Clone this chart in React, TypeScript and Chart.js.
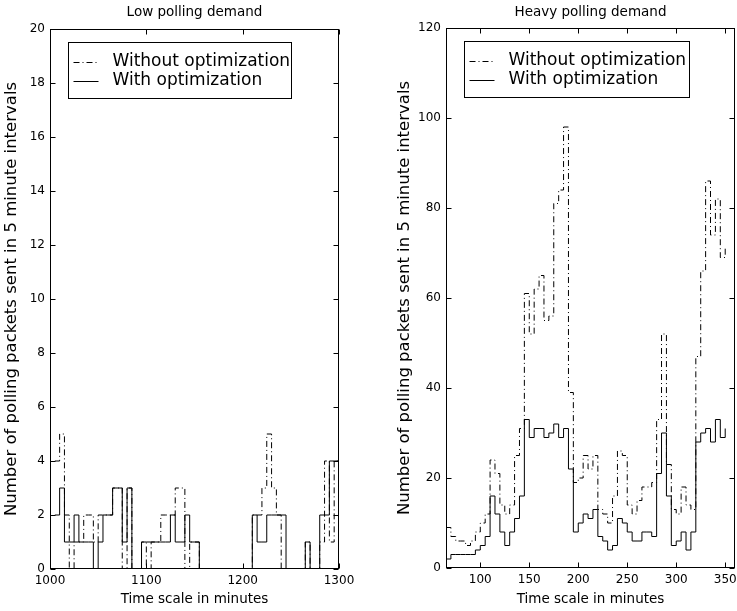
import React, { useEffect, useRef } from 'react';
import { Chart, registerables } from 'chart.js';

Chart.register(...registerables);

const FONT = "'DejaVu Sans', 'Liberation Sans', sans-serif";

// ---------- data ----------
const panelTitles = ['Low polling demand', 'Heavy polling demand'];
const xAxisTitle = 'Time scale in minutes';
const yAxisTitle = 'Number of polling packets sent in 5 minute intervals';
const legendLabels = ['Without optimization', 'With optimization'];

const lowTimes = [
  1005, 1010, 1015, 1020, 1025, 1030, 1035, 1040, 1045, 1050,
  1055, 1060, 1065, 1070, 1075, 1080, 1085, 1090, 1095, 1100,
  1105, 1110, 1115, 1120, 1125, 1130, 1135, 1140, 1145, 1150,
  1155, 1160, 1165, 1170, 1175, 1180, 1185, 1190, 1195, 1200,
  1205, 1210, 1215, 1220, 1225, 1230, 1235, 1240, 1245, 1250,
  1255, 1260, 1265, 1270, 1275, 1280, 1285, 1290, 1295, 1300,
];
const lowWithout = [
  4, 5, 2, 0, 1, 1, 2, 2, 1, 2,
  2, 2, 3, 3, 0, 3, 0, 0, 1, 0,
  1, 1, 2, 2, 2, 3, 3, 0, 1, 1,
  0, 0, 0, 0, 0, 0, 0, 0, 0, 0,
  0, 2, 2, 3, 5, 3, 2, 0, 0, 0,
  0, 0, 1, 0, 0, 1, 4, 1, 4, 4,
];
const lowWith = [
  2, 3, 1, 1, 2, 1, 1, 1, 0, 1,
  2, 2, 3, 3, 1, 3, 0, 0, 1, 1,
  1, 1, 1, 1, 2, 1, 1, 2, 1, 1,
  0, 0, 0, 0, 0, 0, 0, 0, 0, 0,
  0, 2, 1, 1, 2, 2, 2, 2, 0, 0,
  0, 0, 1, 0, 0, 2, 2, 4, 4, 4,
];
const lowXTicks = [1000, 1100, 1200, 1300];
const lowYTicks = [0, 2, 4, 6, 8, 10, 12, 14, 16, 18, 20];

const heavyTimes = [
  65, 70, 75, 80, 85, 90, 95, 100, 105, 110,
  115, 120, 125, 130, 135, 140, 145, 150, 155, 160,
  165, 170, 175, 180, 185, 190, 195, 200, 205, 210,
  215, 220, 225, 230, 235, 240, 245, 250, 255, 260,
  265, 270, 275, 280, 285, 290, 295, 300, 305, 310,
  315, 320, 325, 330, 335, 340, 345, 350,
];
const heavyWithout = [
  9, 7, 6, 6, 5, 6, 8, 10, 12, 24,
  21, 14, 12, 14, 25, 31, 61, 52, 62, 65,
  55, 56, 81, 84, 98, 39, 19, 20, 25, 22,
  25, 13, 12, 10, 16, 26, 25, 14, 12, 15,
  18, 18, 19, 33, 52, 23, 13, 12, 18, 14,
  13, 47, 66, 86, 74, 82, 69, 71,
];
const heavyWith = [
  2, 3, 3, 3, 3, 3, 4, 5, 7, 16,
  12, 8, 5, 8, 11, 16, 33, 29, 31, 31,
  29, 30, 32, 29, 31, 22, 8, 10, 12, 11,
  13, 7, 6, 4, 5, 11, 10, 8, 6, 6,
  8, 8, 7, 21, 30, 16, 5, 6, 8, 4,
  8, 28, 30, 31, 28, 33, 29, 31,
];
const heavyXTicks = [100, 150, 200, 250, 300, 350];
const heavyYTicks = [0, 20, 40, 60, 80, 100, 120];

const DASH = [6, 3, 1, 3];

// ---------- plugin: box, inward ticks, boxed legend ----------
const framePlugin = {
  id: 'frame',
  afterDatasetsDraw(chart: any, _args: any, opts: any) {
    const { ctx, chartArea: a, scales } = chart;
    ctx.save();
    ctx.strokeStyle = '#000';
    ctx.lineWidth = 1;
    ctx.setLineDash([]);
    const L = Math.round(a.left) + 0.5;
    const R = Math.round(a.right) - 0.5;
    const T = Math.round(a.top) + 0.5;
    const B = Math.round(a.bottom) - 0.5;
    ctx.strokeRect(L, T, R - L, B - T);
    const tl = 5;
    ctx.beginPath();
    for (const t of scales.x.ticks) {
      const px = Math.round(scales.x.getPixelForValue(t.value)) + 0.5;
      ctx.moveTo(px, B); ctx.lineTo(px, B - tl);
      ctx.moveTo(px, T); ctx.lineTo(px, T + tl);
    }
    for (const t of scales.y.ticks) {
      const py = Math.round(scales.y.getPixelForValue(t.value)) + 0.5;
      ctx.moveTo(L, py); ctx.lineTo(L + tl, py);
      ctx.moveTo(R, py); ctx.lineTo(R - tl, py);
    }
    ctx.stroke();

    // legend
    const lx = Math.round(a.left + 18) + 0.5;
    const ly = Math.round(a.top + 13) + 0.5;
    const lw = opts.legendWidth || 223;
    const lh = 56;
    ctx.fillStyle = '#fff';
    ctx.fillRect(lx, ly, lw, lh);
    ctx.strokeRect(lx, ly, lw, lh);
    const rows = [ly + 19, ly + 38];
    const dashes = [DASH, []];
    ctx.font = `17px ${FONT}`;
    ctx.textBaseline = 'middle';
    ctx.textAlign = 'left';
    legendLabels.forEach((lab, i) => {
      const y = Math.round(rows[i]) + 0.5;
      ctx.setLineDash(dashes[i]);
      ctx.beginPath();
      ctx.moveTo(lx + 5, y);
      ctx.lineTo(lx + 30, y);
      ctx.stroke();
      ctx.setLineDash([]);
      ctx.fillStyle = '#000';
      ctx.fillText(lab, lx + 44, rows[i]);
    });
    ctx.restore();
  },
};

type PanelProps = {
  left: number;
  width: number;
  title: string;
  times: number[];
  without: number[];
  withOpt: number[];
  xMin: number;
  xMax: number;
  yMax: number;
  xTicks: number[];
  yTicks: number[];
  padLeft: number;
  padRight: number;
  yScaleWidth: number;
  xScaleHeight: number;
  titleBottom: number;
  legendWidth: number;
};

function Panel(p: PanelProps) {
  const ref = useRef<HTMLCanvasElement | null>(null);
  useEffect(() => {
    if (!ref.current) return;
    const toPts = (vals: number[]) => p.times.map((t, i) => ({ x: t, y: vals[i] }));
    const tickFont = { family: FONT, size: 12 };
    const chart = new Chart(ref.current, {
      type: 'line',
      data: {
        datasets: [
          {
            label: legendLabels[0],
            data: toPts(p.without),
            borderColor: '#000',
            borderWidth: 1,
            borderDash: DASH,
            pointRadius: 0,
            stepped: true,
            fill: false,
          },
          {
            label: legendLabels[1],
            data: toPts(p.withOpt),
            borderColor: '#000',
            borderWidth: 1,
            pointRadius: 0,
            stepped: true,
            fill: false,
          },
        ],
      },
      options: {
        responsive: false,
        animation: false,
        devicePixelRatio: 1,
        layout: { padding: { left: p.padLeft, right: p.padRight, top: 0, bottom: 0 } },
        plugins: {
          legend: { display: false },
          tooltip: { enabled: false },
          title: {
            display: true,
            text: p.title,
            fullSize: false,
            color: '#000',
            font: { family: FONT, size: 13.5, weight: 'normal' },
            padding: { top: 3.9, bottom: p.titleBottom },
          },
          frame: { legendWidth: p.legendWidth },
        } as any,
        scales: {
          x: {
            type: 'linear',
            min: p.xMin,
            max: p.xMax,
            grid: { display: false, drawTicks: false },
            border: { display: false },
            afterBuildTicks: (s: any) => {
              s.ticks = p.xTicks.map((v) => ({ value: v }));
            },
            afterFit: (s: any) => {
              s.height = p.xScaleHeight;
            },
            ticks: {
              color: '#000',
              font: tickFont,
              padding: 5,
              maxRotation: 0,
              autoSkip: false,
              callback: (v: any) => String(v),
            },
            title: {
              display: true,
              text: xAxisTitle,
              color: '#000',
              font: { family: FONT, size: 13.5 },
              padding: { top: 0, bottom: 3.9 },
            },
          },
          y: {
            type: 'linear',
            min: 0,
            max: p.yMax,
            grid: { display: false, drawTicks: false },
            border: { display: false },
            afterBuildTicks: (s: any) => {
              s.ticks = p.yTicks.map((v) => ({ value: v }));
            },
            afterFit: (s: any) => {
              s.width = p.yScaleWidth;
            },
            ticks: {
              color: '#000',
              font: tickFont,
              padding: 5,
              autoSkip: false,
              callback: (v: any) => String(v),
            },
            title: {
              display: true,
              text: yAxisTitle,
              color: '#000',
              font: { family: FONT, size: 16.5 },
              padding: { top: 2.2, bottom: 0 },
            },
          },
        },
      } as any,
      plugins: [framePlugin as any],
    });
    return () => chart.destroy();
  }, []);
  return (
    <canvas
      ref={ref}
      width={p.width}
      height={611}
      style={{ position: 'absolute', left: p.left, top: 0, width: p.width, height: 611 }}
    />
  );
}

export default function App() {
  return (
    <div
      style={{
        position: 'fixed',
        left: 0,
        top: 0,
        width: 737,
        height: 611,
        overflow: 'hidden',
        background: '#fff',
      }}
    >
      <Panel
        left={0}
        width={368}
        title={panelTitles[0]}
        times={lowTimes}
        without={lowWithout}
        withOpt={lowWith}
        xMin={1000}
        xMax={1300}
        yMax={20}
        xTicks={lowXTicks}
        yTicks={lowYTicks}
        padLeft={0}
        padRight={29}
        yScaleWidth={50}
        xScaleHeight={42}
        titleBottom={8.9}
        legendWidth={223}
      />
      <Panel
        left={368}
        width={400}
        title={panelTitles[1]}
        times={heavyTimes}
        without={heavyWithout}
        withOpt={heavyWith}
        xMin={65}
        xMax={360}
        yMax={120}
        xTicks={heavyXTicks}
        yTicks={heavyYTicks}
        padLeft={25}
        padRight={33}
        yScaleWidth={53}
        xScaleHeight={43}
        titleBottom={7.9}
        legendWidth={225}
      />
    </div>
  );
}
